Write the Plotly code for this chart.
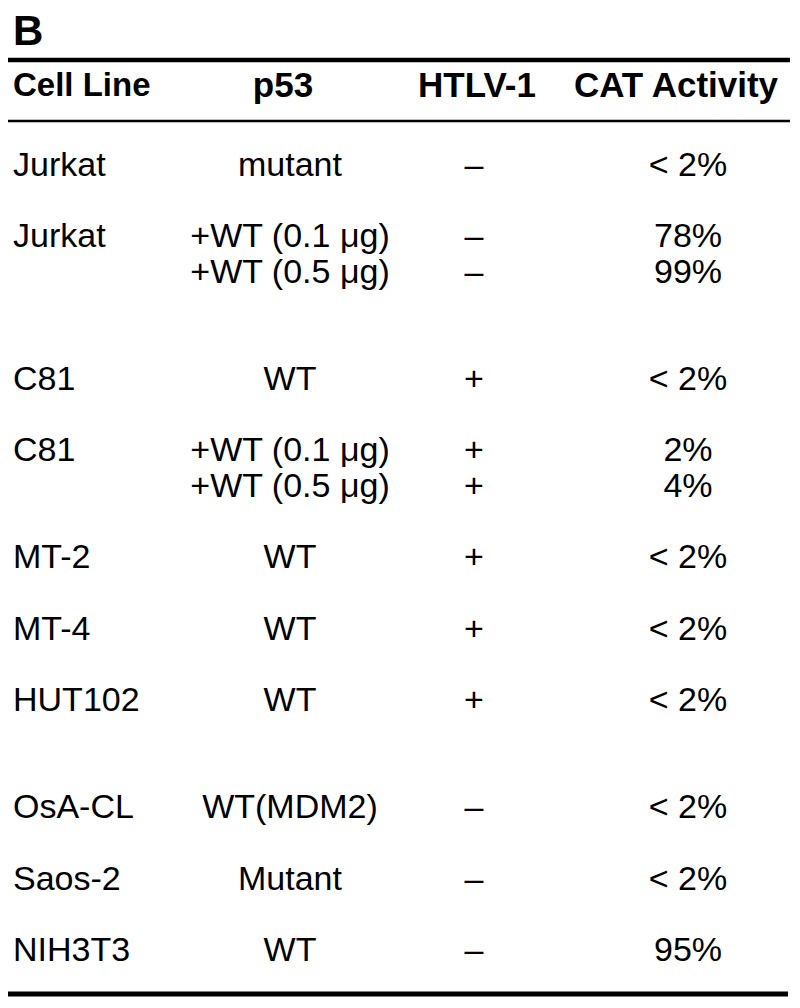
import plotly.graph_objects as go

# table content, one entry per printed line
cell_line = ["Jurkat", "Jurkat", "", "C81", "C81", "", "MT-2", "MT-4", "HUT102",
             "OsA-CL", "Saos-2", "NIH3T3"]
p53 = ["mutant", "+WT (0.1 \u03bcg)", "+WT (0.5 \u03bcg)", "WT", "+WT (0.1 \u03bcg)",
       "+WT (0.5 \u03bcg)", "WT", "WT", "WT", "WT(MDM2)", "Mutant", "WT"]
htlv1 = ["\u2013", "\u2013", "\u2013", "+", "+", "+", "+", "+", "+",
         "\u2013", "\u2013", "\u2013"]
cat_activity = ["< 2%", "78%", "99%", "< 2%", "2%", "4%", "< 2%", "< 2%", "< 2%",
                "< 2%", "< 2%", "95%"]
group = ["Jurkat"] * 3 + ["HTLV-1"] * 6 + ["other"] * 3
headers = ["Cell Line", "p53", "HTLV-1", "CAT Activity"]
panel_label = "B"

FONT = "Liberation Sans, Arial, Helvetica, sans-serif"
PAGE_W, PAGE_H = 800, 1008
BODY = 8          # default page margin around the plot div
PITCH = 35.7      # px per half row
FIRST = 167       # px centre of first row


def to_u(px):
    return (px - FIRST) / PITCH


# row positions in half-row units: new row = 2, continuation = 1, new group +1
y = []
pos = 0
for i in range(len(cell_line)):
    if i > 0:
        pos += 2 if cell_line[i] else 1
        if group[i] != group[i - 1]:
            pos += 1
    y.append(pos)

col_x = [13, 290, 474, 688]
head_x = [13, 283, 477, 676]
head_y = to_u(88)

fig = go.Figure()

body_font = dict(family=FONT, size=34, color="black")
fig.add_trace(go.Scatter(x=[col_x[0]] * len(y), y=y, text=cell_line, mode="text",
                         textposition="middle right", textfont=body_font,
                         hoverinfo="skip"))
for xc, col in zip(col_x[1:], [p53, htlv1, cat_activity]):
    fig.add_trace(go.Scatter(x=[xc] * len(y), y=y, text=col, mode="text",
                             textposition="middle center", textfont=body_font,
                             hoverinfo="skip"))

head_font = dict(family=FONT, size=35, color="black", weight="bold")
fig.add_trace(go.Scatter(x=head_x[:1], y=[head_y], text=headers[:1], mode="text",
                         textposition="middle right",
                         textfont=dict(head_font, size=33), hoverinfo="skip"))
fig.add_trace(go.Scatter(x=head_x[1:], y=[head_y] * 3, text=headers[1:], mode="text",
                         textposition="middle center", textfont=head_font,
                         hoverinfo="skip"))

# horizontal rules
for px, w, x1 in [(60, 4.5, 790), (121, 2.5, 790), (994, 5, 788)]:
    fig.add_shape(type="line", xref="x", yref="y", x0=8, x1=x1,
                  y0=to_u(px), y1=to_u(px), line=dict(color="black", width=w))

fig.add_annotation(x=11, y=to_u(30), xref="x", yref="y", text="<b>" + panel_label + "</b>",
                   showarrow=False, xanchor="left", yanchor="middle",
                   font=dict(family=FONT, size=42, color="black"))

fig.update_layout(width=PAGE_W - BODY, height=PAGE_H - BODY,
                  margin=dict(l=0, r=0, t=0, b=0),
                  paper_bgcolor="white", plot_bgcolor="white", showlegend=False,
                  xaxis=dict(range=[BODY, PAGE_W], visible=False, fixedrange=True),
                  yaxis=dict(range=[to_u(PAGE_H), to_u(BODY)], visible=False,
                             fixedrange=True))

fig.write_html("out.html", config={"displayModeBar": False})
